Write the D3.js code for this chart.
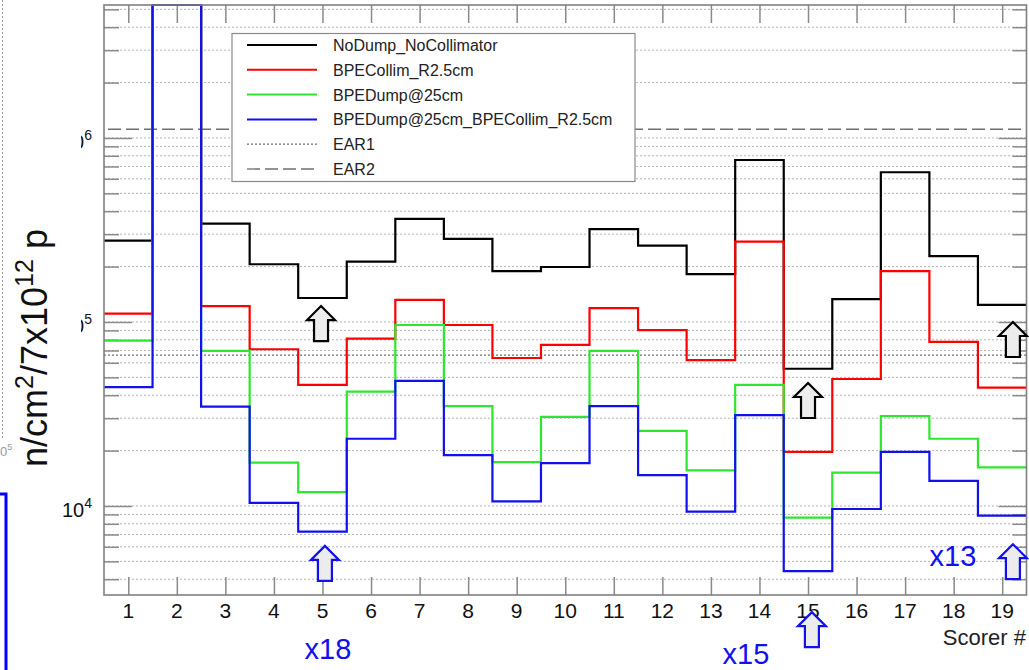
<!DOCTYPE html>
<html>
<head>
<meta charset="utf-8">
<script src="https://cdn.jsdelivr.net/npm/d3@7"></script>
<style>
body { margin: 0; background: #fff; }
svg { display: block; font-family: "Liberation Sans", Arial, Helvetica, sans-serif; }
</style>
</head>
<body>
<svg id="chart" width="1029" height="670"></svg>
<script>
// scorer numbers and the four histograms (n/cm2/7x10^12 p)
const scorers = [1, 2, 3, 4, 5, 6, 7, 8, 9, 10, 11, 12, 13, 14, 15, 16, 17, 18, 19]
const noDump_noColl = [2.77e5, 8e6, 3.42e5, 2.06e5, 1.35e5, 2.13e5, 3.63e5, 2.83e5, 1.89e5, 1.99e5, 3.20e5, 2.60e5, 1.82e5, 7.59e5, 5.57e4, 1.33e5, 6.51e5, 2.28e5, 1.24e5]
const bpeCollim = [1.11e5, 8e6, 1.22e5, 7.11e4, 4.55e4, 8.11e4, 1.32e5, 9.63e4, 6.37e4, 7.50e4, 1.19e5, 9.02e4, 6.21e4, 2.73e5, 1.97e4, 4.90e4, 1.89e5, 7.79e4, 4.40e4]
const bpeDump = [7.92e4, 8e6, 6.96e4, 1.72e4, 1.19e4, 4.18e4, 9.63e4, 3.49e4, 1.73e4, 3.05e4, 6.96e4, 2.56e4, 1.56e4, 4.55e4, 8.64e3, 1.52e4, 3.08e4, 2.32e4, 1.62e4]
const bpeDumpColl = [4.43e4, 8e6, 3.47e4, 1.04e4, 7.25e3, 2.32e4, 4.78e4, 1.89e4, 1.06e4, 1.71e4, 3.49e4, 1.47e4, 9.31e3, 3.12e4, 4.43e3, 9.63e3, 1.97e4, 1.37e4, 8.86e3]

const seriesNames = ["NoDump_NoCollimator", "BPECollim_R2.5cm", "BPEDump@25cm", "BPEDump@25cm_BPECollim_R2.5cm"]
const seriesColors = ["#000000", "#ff0000", "#2ee62e", "#1010f0"]
const seriesValues = [noDump_noColl, bpeCollim, bpeDump, bpeDumpColl]

// reference levels
const earNames = ["EAR1", "EAR2"]
const earValues = [6.6e4, 1.115e6]

// arrows marking scaled entries: [scorer position, value at tip]
const blackArrows = [[4.97, 1.22e5], [15.0, 4.66e4], [19.22, 1.0e5]]
const blueArrows = [[5.05, 6.07e3], [15.08, 2.65e3], [19.22, 6.2e3]]
const scaleLabels = ["x18", "x15", "x13"]

const svg = d3.select("#chart")

const x = d3.scaleLinear().domain([0.5, 19.5]).range([104, 1026.5])
const y = d3.scaleLog().domain([3283, 5.28e6]).range([595, 5])
const yc = y.copy().clamp(true)

const plotL = x.range()[0], plotR = x.range()[1]
const plotT = y.range()[1], plotB = y.range()[0]

// every 1..9 x decade tick inside the frame
const logTicks = y.ticks()
const isDecade = d => Math.abs(Math.log10(d) - Math.round(Math.log10(d))) < 1e-6

// dotted grid
svg.append("g")
    .selectAll("line")
    .data(logTicks)
    .enter().append("line")
    .attr("x1", plotL).attr("x2", plotR)
    .attr("y1", d => y(d)).attr("y2", d => y(d))
    .attr("stroke", "#b4b4b4")
    .attr("stroke-width", 1)
    .attr("stroke-dasharray", "2,2")

// y axis (left + right), long ticks at decades
const yAxisL = d3.axisLeft(y).tickValues(logTicks).tickFormat("")
const gL = svg.append("g").attr("transform", "translate(" + plotL + ",0)").call(yAxisL)
gL.selectAll(".tick line").attr("x2", d => isDecade(d) ? 28 : 15)
const gR = svg.append("g").attr("transform", "translate(" + plotR + ",0)").call(yAxisL)
gR.selectAll(".tick line").attr("x2", d => isDecade(d) ? -28 : -14)
svg.selectAll(".domain").remove()
svg.selectAll(".tick line").attr("stroke", "#8a8a8a").attr("stroke-width", 1.5)

// x ticks at bin centres, top and bottom
const xAxisB = d3.axisBottom(x).tickValues(scorers).tickSize(0).tickPadding(0).tickFormat("")
const gB = svg.append("g").attr("transform", "translate(0," + plotB + ")").call(xAxisB)
gB.selectAll(".tick line").attr("y2", -18)
const gT = svg.append("g").attr("transform", "translate(0," + plotT + ")").call(xAxisB)
gT.selectAll(".tick line").attr("y2", 18)
svg.selectAll(".domain").remove()
gB.selectAll(".tick line").attr("stroke", "#8a8a8a").attr("stroke-width", 1.5)
gT.selectAll(".tick line").attr("stroke", "#8a8a8a").attr("stroke-width", 1.5)

// x labels
svg.append("g")
    .selectAll("text")
    .data(scorers)
    .enter().append("text")
    .attr("x", d => x(d))
    .attr("y", 618)
    .attr("text-anchor", "middle")
    .attr("font-size", 21)
    .attr("fill", "#111")
    .text(d => d)

svg.append("text")
    .attr("x", 1026)
    .attr("y", 645)
    .attr("text-anchor", "end")
    .attr("font-size", 22)
    .attr("fill", "#222")
    .text("Scorer #")

// y labels 10^n
const decades = logTicks.filter(isDecade)
const yLab = svg.append("g")
    .selectAll("text")
    .data(decades)
    .enter().append("text")
    .attr("x", 92)
    .attr("y", d => y(d) + 11)
    .attr("text-anchor", "end")
    .attr("font-size", 20)
    .attr("fill", "#111")
yLab.append("tspan").text("10")
yLab.append("tspan").attr("dy", -9).attr("font-size", 14).text(d => Math.round(Math.log10(d)))

// EAR lines
svg.append("line")
    .attr("x1", plotL).attr("x2", plotR)
    .attr("y1", y(earValues[0])).attr("y2", y(earValues[0]))
    .attr("stroke", "#707070").attr("stroke-width", 1.3)
    .attr("stroke-dasharray", "2,2")
svg.append("line")
    .attr("x1", plotL + 4).attr("x2", plotR)
    .attr("y1", y(earValues[1])).attr("y2", y(earValues[1]))
    .attr("stroke", "#707070").attr("stroke-width", 1.3)
    .attr("stroke-dasharray", "13,5")

// step histograms
const stepLine = d3.line()
    .x(d => x(d[0]))
    .y(d => yc(d[1]))
    .curve(d3.curveStepAfter)

seriesValues.forEach(function (vals, k) {
    var pts = scorers.map((s, i) => [s - 0.5, vals[i]])
    pts.push([scorers[scorers.length - 1] + 0.5, vals[vals.length - 1]])
    svg.append("path")
        .datum(pts)
        .attr("d", stepLine)
        .attr("fill", "none")
        .attr("stroke", seriesColors[k])
        .attr("stroke-width", 2.2)
})

// frame
svg.append("rect")
    .attr("x", plotL).attr("y", plotT)
    .attr("width", plotR - plotL).attr("height", plotB - plotT)
    .attr("fill", "none")
    .attr("stroke", "#808080")
    .attr("stroke-width", 1.6)

// legend
const legend = svg.append("g")
legend.append("rect")
    .attr("x", 232).attr("y", 33.5)
    .attr("width", 403).attr("height", 148)
    .attr("fill", "#fff")
    .attr("stroke", "#8a8a8a")
    .attr("stroke-width", 1.2)

const legendRows = seriesNames.concat(earNames)
legendRows.forEach(function (name, i) {
    var ly = 45 + i * 24.8
    var line = legend.append("line")
        .attr("x1", 247).attr("x2", 317)
        .attr("y1", ly).attr("y2", ly)
    if (i < 4) {
        line.attr("stroke", seriesColors[i]).attr("stroke-width", 2)
    } else {
        line.attr("stroke", "#707070").attr("stroke-width", 1.3)
            .attr("stroke-dasharray", i == 4 ? "2,2" : "13,5")
    }
    legend.append("text")
        .attr("x", 333).attr("y", ly + 6)
        .attr("font-size", 16)
        .attr("fill", "#222")
        .text(name)
})

// arrows
function arrowPath(tx, ty) {
    return "M" + tx + "," + ty +
        " L" + (tx + 14) + "," + (ty + 14) +
        " L" + (tx + 7) + "," + (ty + 14) +
        " L" + (tx + 7) + "," + (ty + 35) +
        " L" + (tx - 7) + "," + (ty + 35) +
        " L" + (tx - 7) + "," + (ty + 14) +
        " L" + (tx - 14) + "," + (ty + 14) + " Z"
}
blackArrows.forEach(function (a) {
    svg.append("path")
        .attr("d", arrowPath(x(a[0]), y(a[1])))
        .attr("fill", "#ececec")
        .attr("stroke", "#000")
        .attr("stroke-width", 2.2)
})
blueArrows.forEach(function (a) {
    svg.append("path")
        .attr("d", arrowPath(x(a[0]), y(a[1])))
        .attr("fill", "#ececec")
        .attr("stroke", "#1010f0")
        .attr("stroke-width", 2.2)
})

// scale factor labels
const labelPos = [[328, 659], [746, 664], [953, 566]]
scaleLabels.forEach(function (t, i) {
    svg.append("text")
        .attr("x", labelPos[i][0])
        .attr("y", labelPos[i][1])
        .attr("text-anchor", "middle")
        .attr("font-size", 29)
        .attr("fill", "#1010f0")
        .text(t)
})

// neighbouring slide picture overlapping the left edge
svg.append("rect")
    .attr("x", 0).attr("y", 0)
    .attr("width", 81).attr("height", 478)
    .attr("fill", "#fff")
svg.append("line")
    .attr("x1", 2.5).attr("x2", 2.5)
    .attr("y1", 0).attr("y2", 440)
    .attr("stroke", "#9a9a9a")
    .attr("stroke-dasharray", "2,2")
const frag = svg.append("text")
    .attr("x", 0).attr("y", 456)
    .attr("font-size", 13)
    .attr("fill", "#999")
frag.append("tspan").text("0")
frag.append("tspan").attr("dy", -6).attr("font-size", 9).text("5")
svg.append("path")
    .attr("d", "M0,494 H6 V672")
    .attr("fill", "none")
    .attr("stroke", "#0000ff")
    .attr("stroke-width", 3)

// y title
const title = svg.append("text")
    .attr("transform", "translate(47,348) rotate(-90)")
    .attr("text-anchor", "middle")
    .attr("font-size", 36)
    .attr("fill", "#111")
title.append("tspan").text("n/cm")
title.append("tspan").attr("dy", -14).attr("font-size", 25).text("2")
title.append("tspan").attr("dy", 14).text("/7x10")
title.append("tspan").attr("dy", -14).attr("font-size", 25).text("12")
title.append("tspan").attr("dy", 14).text(" p")
</script>
</body>
</html>
